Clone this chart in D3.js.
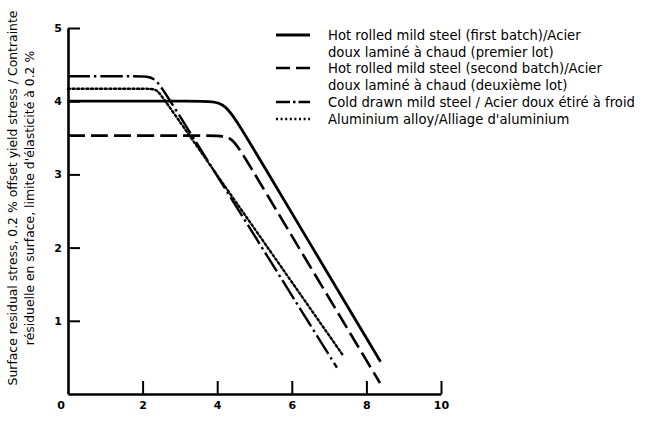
<!DOCTYPE html>
<html>
<head>
<meta charset="utf-8">
<script src="https://cdn.jsdelivr.net/npm/d3@7"></script>
<style>
  html, body { margin: 0; padding: 0; background: #fff; }
  svg { display: block; }
  text { font-family: "DejaVu Sans", "Liberation Sans", sans-serif; fill: #000; }
</style>
</head>
<body>
<svg id="chart" width="645" height="421"></svg>
<script>
// ---- Data ----
// each curve: plateau start, plateau end, corner vertex, point on descending branch, end
const xTicks = [2, 4, 6, 8, 10];
const yTicks = [1, 2, 3, 4, 5];

// Hot rolled mild steel (first batch)
const firstBatchX = [0, 3.65, 4.21, 4.75, 8.38];
const firstBatchY = [4.0, 4.0, 4.0, 3.54, 0.44];
// Hot rolled mild steel (second batch)
const secondBatchX = [0, 3.95, 4.39, 4.8, 8.365];
const secondBatchY = [3.53, 3.53, 3.53, 3.18, 0.15];
// Cold drawn mild steel
const coldDrawnX = [0, 1.95, 2.33, 2.7, 7.21];
const coldDrawnY = [4.34, 4.34, 4.34, 4.04, 0.36];
// Aluminium alloy
const aluminiumX = [0, 2.15, 2.38, 2.6, 7.37];
const aluminiumY = [4.17, 4.17, 4.17, 4.01, 0.53];

const seriesNames = [
  ["Hot rolled mild steel (first batch)/Acier", "doux laminé à chaud (premier lot)"],
  ["Hot rolled mild steel (second batch)/Acier", "doux laminé à chaud (deuxième lot)"],
  ["Cold drawn mild steel / Acier doux étiré à froid"],
  ["Aluminium alloy/Alliage d'aluminium"]
];

const yLabelLines = [
  "Surface residual stress, 0.2 % offset yield stress / Contrainte",
  "résiduelle en surface, limite d'élasticité à 0.2 %"
];

// ---- Chart ----
const svg = d3.select("#chart");
const x = d3.scaleLinear().domain([0, 10]).range([68, 441]);
const y = d3.scaleLinear().domain([0, 5]).range([394, 28]);

const styles = [
  { dash: null, width: 2.8 },
  { dash: "17,6", width: 2.6 },
  { dash: "22,4,2.5,4", width: 2.4 },
  { dash: "2,2.6", width: 2.4 }
];

const series = [
  [firstBatchX, firstBatchY],
  [secondBatchX, secondBatchY],
  [coldDrawnX, coldDrawnY],
  [aluminiumX, aluminiumY]
].map(([xs, ys]) => xs.map((v, i) => [v, ys[i]]));

const line = d3.line()
  .x(d => x(d[0]))
  .y(d => y(d[1]))
  .curve(d3.curveBasis);

series.forEach((pts, i) => {
  svg.append("path")
    .attr("d", line(pts))
    .attr("fill", "none")
    .attr("stroke", "#000")
    .attr("stroke-width", styles[i].width)
    .attr("stroke-dasharray", styles[i].dash)
    .attr("stroke-linecap", i === 3 ? "round" : "butt");
});

// Axes
const xAxis = d3.axisBottom(x)
  .tickValues(xTicks)
  .tickSizeInner(-13)
  .tickSizeOuter(0)
  .tickPadding(7)
  .tickFormat(d3.format("d"));
const gx = svg.append("g").attr("transform", `translate(0,${y(0)})`).call(xAxis);

const yAxis = d3.axisLeft(y)
  .tickValues(yTicks)
  .tickSizeInner(-12)
  .tickSizeOuter(0)
  .tickPadding(6)
  .tickFormat(d3.format("d"));
const gy = svg.append("g").attr("transform", `translate(${x(0)},0)`).call(yAxis);

[gx, gy].forEach(g => {
  g.select(".domain").attr("stroke", "#000").attr("stroke-width", 2.6);
  g.selectAll(".tick line").attr("stroke", "#000").attr("stroke-width", 2);
  g.selectAll(".tick text")
    .style("font-family", "'DejaVu Sans', sans-serif")
    .style("font-size", "11px")
    .style("font-weight", "bold")
    .attr("fill", "#000");
});

// shared origin label
svg.append("text")
  .attr("x", x(0) - 7)
  .attr("y", y(0) + 15)
  .attr("text-anchor", "middle")
  .style("font-size", "11px")
  .style("font-weight", "bold")
  .text("0");

// Y axis title (two lines rotated)
const yl = svg.append("text")
  .attr("transform", `translate(17,${198}) rotate(-90)`)
  .attr("text-anchor", "middle")
  .style("font-size", "12.4px");
yl.append("tspan").attr("x", 0).attr("y", 0).text(yLabelLines[0]);
yl.append("tspan").attr("x", 0).attr("y", 17).text(yLabelLines[1]);

// Legend
const legendRowsY = [35, 68, 102, 119];
const lineGap = 17.5;
seriesNames.forEach((lines, i) => {
  const ly = legendRowsY[i];
  svg.append("line")
    .attr("x1", 276).attr("x2", 310)
    .attr("y1", ly).attr("y2", ly)
    .attr("stroke", "#000")
    .attr("stroke-width", styles[i].width)
    .attr("stroke-dasharray", i === 1 ? "14,6" : (i === 2 ? "14,3,2.5,3" : styles[i].dash));
  const t = svg.append("text")
    .attr("x", 328)
    .attr("y", ly + 4.5)
    .style("font-size", "13.2px");
  lines.forEach((s, j) => {
    t.append("tspan").attr("x", 328).attr("dy", j === 0 ? 0 : lineGap).text(s);
  });
});
</script>
</body>
</html>
